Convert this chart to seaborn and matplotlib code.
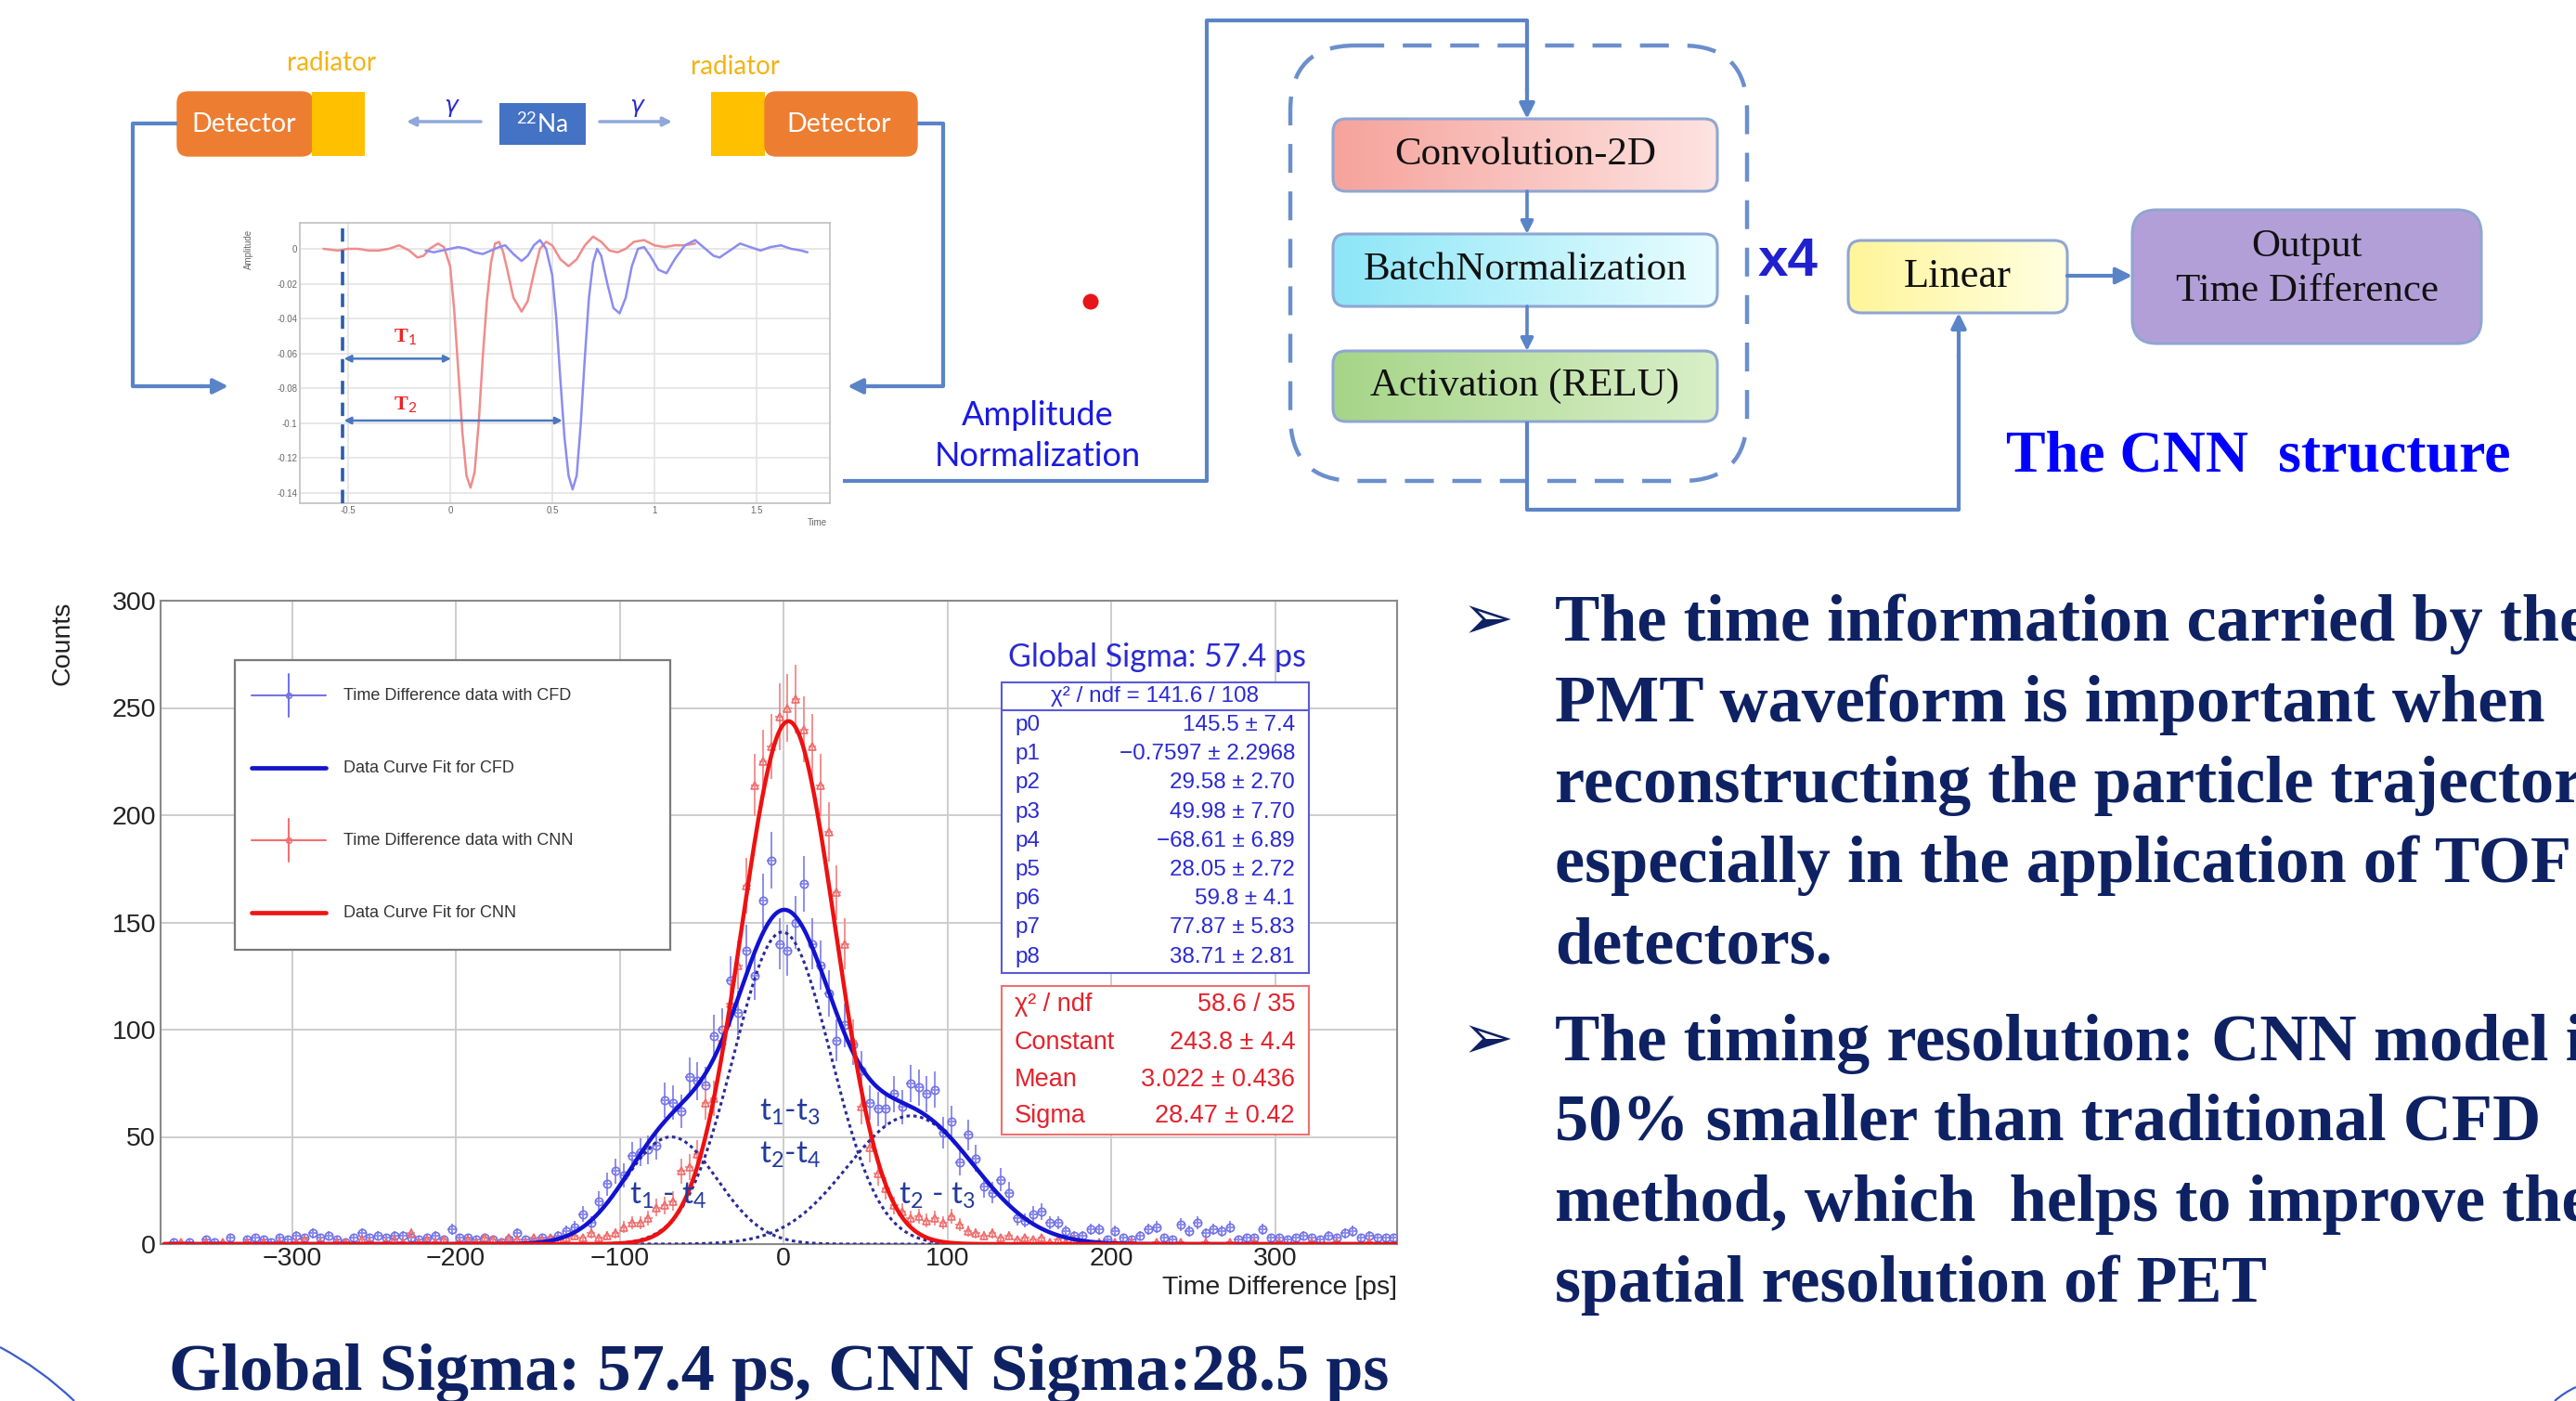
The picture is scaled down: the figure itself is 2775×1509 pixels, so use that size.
import numpy as np
import pandas as pd
import matplotlib
matplotlib.use("Agg")
import matplotlib.pyplot as plt
import seaborn as sns
from matplotlib.patches import FancyBboxPatch, Rectangle, Circle, PathPatch
from matplotlib.path import Path
from matplotlib.colors import LinearSegmentedColormap
from matplotlib.ticker import MultipleLocator

# ---------------------------------------------------------------- data
bin_edges = np.arange(-375, 380, 5)          # 5 ps bins, 150 bins

cfd_counts = [
    1, 0, 1, 0, 2, 1, 0, 3, 0, 2,
    3, 2, 1, 3, 2, 4, 3, 5, 3, 4,
    2, 1, 3, 5, 3, 4, 3, 4, 4, 3,
    2, 3, 4, 2, 7, 3, 3, 2, 3, 2,
    1, 2, 5, 2, 1, 3, 2, 4, 6, 8,
    14, 10, 20, 28, 34, 32, 41, 43, 44, 46,
    67, 66, 62, 78, 76, 74, 97, 100, 123, 108,
    137, 125, 160, 179, 140, 137, 150, 168, 140, 130,
    117, 95, 102, 93, 81, 66, 63, 63, 70, 64,
    75, 73, 70, 72, 52, 57, 38, 51, 40, 27,
    24, 30, 24, 12, 11, 14, 15, 10, 10, 6,
    4, 4, 7, 7, 2, 6, 3, 2, 4, 7,
    8, 3, 2, 9, 6, 10, 5, 7, 6, 8,
    2, 3, 3, 7, 3, 3, 2, 3, 4, 3,
    2, 4, 3, 5, 6, 3, 4, 3, 3, 3]

cnn_counts = [
    0, 1, 0, 0, 1, 0, 1, 0, 0, 1,
    0, 1, 0, 1, 0, 1, 2, 0, 1, 0,
    1, 1, 0, 2, 1, 0, 1, 2, 1, 5,
    1, 2, 1, 2, 0, 1, 2, 1, 3, 2,
    1, 3, 2, 1, 3, 2, 3, 2, 3, 4,
    3, 5, 3, 4, 5, 8, 10, 10, 12, 17,
    18, 20, 34, 36, 42, 66, 68, 95, 112, 130,
    167, 214, 225, 232, 246, 250, 254, 240, 232, 214,
    192, 164, 140, 95, 64, 45, 33, 26, 18, 15,
    12, 13, 11, 12, 10, 13, 9, 6, 5, 4,
    5, 3, 4, 2, 3, 2, 3, 1, 2, 1,
    2, 1, 0, 1, 0, 1, 0, 1, 0, 0,
    1, 0, 0, 1, 0, 0, 1, 0, 0, 1,
    0, 0, 1, 0, 0, 1, 0, 0, 0, 1,
    0, 0, 1, 0, 0, 0, 1, 0, 0, 0]

# fit parameters shown in the stats boxes
cfd_fit_params = [145.5, -0.7597, 29.58, 49.98, -68.61, 28.05, 59.8, 77.87, 38.71]
cnn_fit_params = [243.8, 3.022, 28.47]

x_ticks = [-300, -200, -100, 0, 100, 200, 300]
y_ticks = [0, 50, 100, 150, 200, 250, 300]

cfd_stat_names = ["p0", "p1", "p2", "p3", "p4", "p5", "p6", "p7", "p8"]
cfd_stat_values = ["145.5 ± 7.4", "−0.7597 ± 2.2968", "29.58 ± 2.70", "49.98 ± 7.70",
                   "−68.61 ± 6.89", "28.05 ± 2.72", "59.8 ± 4.1", "77.87 ± 5.83", "38.71 ± 2.81"]
cnn_stat_names = ["χ² / ndf", "Constant", "Mean", "Sigma"]
cnn_stat_values = ["58.6 / 35", "243.8 ± 4.4", "3.022 ± 0.436", "28.47 ± 0.42"]

legend_labels = ["Time Difference data with CFD", "Data Curve Fit for CFD",
                 "Time Difference data with CNN", "Data Curve Fit for CNN"]

# waveform inset
wave_red_t = [-0.62, -0.55, -0.50, -0.45, -0.40, -0.35, -0.30, -0.25, -0.20, -0.16,
              -0.13, -0.10, -0.06, -0.03, 0.00, 0.02, 0.04, 0.06, 0.08, 0.10,
              0.12, 0.14, 0.16, 0.18, 0.20, 0.22, 0.24, 0.26, 0.28, 0.31,
              0.35, 0.38, 0.41, 0.44, 0.47, 0.50, 0.54, 0.58, 0.62, 0.66,
              0.70, 0.74, 0.78, 0.82, 0.86, 0.90, 0.95, 1.00, 1.05, 1.10,
              1.15, 1.20]
wave_red_amp = [0.000, -0.001, 0.000, 0.000, -0.001, -0.001, 0.000, 0.002, -0.001, -0.005,
                -0.004, 0.000, 0.003, 0.001, -0.010, -0.035, -0.070, -0.105, -0.130, -0.137,
                -0.128, -0.100, -0.062, -0.030, -0.008, 0.003, 0.004, -0.002, -0.012, -0.028,
                -0.036, -0.030, -0.014, 0.000, 0.004, 0.002, -0.006, -0.010, -0.006, 0.002,
                0.007, 0.004, -0.001, -0.002, 0.000, 0.004, 0.005, 0.002, 0.001, 0.002,
                0.002, 0.003]
wave_blue_t = [-0.12, -0.08, -0.04, 0.00, 0.04, 0.08, 0.12, 0.16, 0.20, 0.24,
               0.27, 0.31, 0.35, 0.38, 0.41, 0.44, 0.47, 0.50, 0.52, 0.54,
               0.56, 0.58, 0.60, 0.62, 0.64, 0.66, 0.68, 0.70, 0.72, 0.74,
               0.77, 0.80, 0.83, 0.86, 0.89, 0.92, 0.95, 0.98, 1.02, 1.06,
               1.10, 1.15, 1.20, 1.25, 1.29, 1.32, 1.37, 1.42, 1.47, 1.52,
               1.57, 1.62, 1.67, 1.72, 1.75]
wave_blue_amp = [-0.001, -0.002, -0.001, 0.000, 0.001, 0.000, -0.002, -0.003, -0.001, 0.001,
                 0.002, -0.003, -0.007, -0.004, 0.002, 0.005, 0.000, -0.015, -0.040, -0.075,
                 -0.108, -0.130, -0.138, -0.130, -0.100, -0.062, -0.028, -0.008, 0.000, -0.004,
                 -0.020, -0.034, -0.037, -0.028, -0.010, 0.000, 0.001, -0.004, -0.012, -0.014,
                 -0.006, 0.002, 0.005, 0.000, -0.004, -0.005, -0.001, 0.003, 0.001, -0.001,
                 0.001, 0.002, 0.000, -0.001, -0.002]
wave_x_ticks = [-0.5, 0, 0.5, 1, 1.5]
wave_y_ticks = [0, -0.02, -0.04, -0.06, -0.08, -0.1, -0.12, -0.14]

cnn_blocks = ["Convolution-2D", "BatchNormalization", "Activation (RELU)"]

bullet1 = ["The time information carried by the", "PMT waveform is important when",
           "reconstructing the particle trajectory,", "especially in the application of TOF",
           "detectors."]
bullet2 = ["The timing resolution: CNN model is", "50% smaller than traditional CFD",
           "method, which  helps to improve the", "spatial resolution of PET"]
caption = "Global Sigma: 57.4 ps, CNN Sigma:28.5 ps"

# ---------------------------------------------------------------- style
sns.set_theme(style="white")
plt.rcParams['font.family'] = ['Liberation Sans', 'DejaVu Sans']
plt.rcParams['mathtext.fontset'] = 'custom'
plt.rcParams['mathtext.rm'] = 'Lato'
plt.rcParams['mathtext.it'] = 'Lato:italic'
plt.rcParams['axes.unicode_minus'] = True

W, H = 2775, 1509
fig = plt.figure(figsize=(W / 100, H / 100), dpi=100)
fig.patch.set_facecolor('white')

NAVY = '#0e2163'
BLUE_TXT = '#2a2ad2'
RED_TXT = '#e3222c'
LINE_BLUE = '#5a84c8'


def gaus(t, a, m, s):
    return a * np.exp(-0.5 * ((t - m) / s) ** 2)


# ---------------------------------------------------------------- histogram
ax = fig.add_axes([173 / W, 1 - 1340 / H, 1332 / W, 693 / H])
centers = 0.5 * (bin_edges[:-1] + bin_edges[1:])
df = pd.DataFrame({"t": centers, "cfd": cfd_counts, "cnn": cnn_counts})

for col, mk, fc, ec in [("cfd", "o", "#7272e6", "#8d8dee"), ("cnn", "^", "#f06b6b", "#f39090")]:
    d = df[df[col] > 0]
    ax.errorbar(d["t"], d[col], yerr=np.sqrt(d[col]), xerr=2.5, fmt=mk, ms=6,
                mfc='none', mec=fc, mew=1.2, ecolor=ec, elinewidth=1.4, capsize=0, zorder=3)

tt = np.linspace(-378, 374, 1521)
p = cfd_fit_params
comps = [gaus(tt, p[0], p[1], p[2]), gaus(tt, p[3], p[4], p[5]), gaus(tt, p[6], p[7], p[8])]
for c in comps:
    ax.plot(tt, c, ls=(0, (1.2, 1.2)), color='#2b2b9a', lw=2.2, zorder=4)
fit_df = pd.DataFrame({"t": tt, "cfd": comps[0] + comps[1] + comps[2],
                       "cnn": gaus(tt, *cnn_fit_params)})
sns.lineplot(data=fit_df, x="t", y="cfd", color='#1212d0', lw=3.2, ax=ax, zorder=5, sort=False)
sns.lineplot(data=fit_df, x="t", y="cnn", color='#ee1111', lw=3.2, ax=ax, zorder=6, sort=False)

ax.set_xlim(-380.2, 374.5)
ax.set_ylim(0, 300)
ax.set_xticks(x_ticks)
ax.set_yticks(y_ticks)
ax.xaxis.set_minor_locator(MultipleLocator(20))
ax.yaxis.set_minor_locator(MultipleLocator(10))
ax.grid(True, which='major', color='#cdcdcd', lw=1.4)
ax.set_axisbelow(True)
ax.tick_params(axis='both', which='both', direction='in', labelsize=20.5, colors='#222222',
               top=False, right=False)
ax.tick_params(axis='y', which='major', length=27, width=1.3, color='#777777')
ax.tick_params(axis='y', which='minor', length=14, width=1.1, color='#777777')
ax.tick_params(axis='x', which='major', length=16, width=1.3, color='#777777', pad=2)
ax.tick_params(axis='x', which='minor', length=8, width=1.1, color='#777777')
for s in ax.spines.values():
    s.set_color('#8a8a8a')
    s.set_linewidth(1.5)
ax.set_xlabel("")
ax.set_ylabel("")
ax.set_facecolor('white')

# ---------------------------------------------------------------- waveform inset
axw = fig.add_axes([323 / W, 1 - 542 / H, 571 / W, 302 / H])
wdf_r = pd.DataFrame({"t": wave_red_t, "a": wave_red_amp})
wdf_b = pd.DataFrame({"t": wave_blue_t, "a": wave_blue_amp})
sns.lineplot(data=wdf_r, x="t", y="a", color='#f08c8c', lw=1.8, ax=axw, sort=False, zorder=3)
sns.lineplot(data=wdf_b, x="t", y="a", color='#8c8cf0', lw=1.8, ax=axw, sort=False, zorder=3)
axw.set_xlim(-0.736, 1.86)
axw.set_ylim(-0.1459, 0.0149)
axw.set_xticks(wave_x_ticks)
axw.set_xticklabels(["-0.5", "0", "0.5", "1", "1.5"])
axw.set_yticks(wave_y_ticks)
axw.set_yticklabels(["0", "-0.02", "-0.04", "-0.06", "-0.08", "-0.1", "-0.12", "-0.14"])
axw.xaxis.set_minor_locator(MultipleLocator(0.1))
axw.yaxis.set_minor_locator(MultipleLocator(0.005))
axw.grid(True, which='major', color='#e3e3e3', lw=1.2)
axw.tick_params(which='both', direction='in', labelsize=7, colors='#666666', pad=2)
axw.tick_params(which='major', length=6)
axw.tick_params(which='minor', length=3)
for s in axw.spines.values():
    s.set_color('#c0c0c0')
    s.set_linewidth(1.2)
axw.set_xlabel("")
axw.set_ylabel("")
axw.axvline(-0.527, ymin=0.0, ymax=0.98, color='#2a5cb0', lw=2.6, ls=(0, (4, 2.5)), zorder=4)
for yv, xe in [(-0.063, 0.005), (-0.0985, 0.55)]:
    axw.annotate('', xy=(xe, yv), xytext=(-0.52, yv),
                 arrowprops=dict(arrowstyle='<|-|>', color='#4a78bf', lw=1.8, mutation_scale=11,
                                 shrinkA=0, shrinkB=0))
axw.text(-0.22, -0.051, "T$_1$", color='#ee2222', fontsize=16, family='Liberation Serif',
         ha='center', va='center', fontweight='bold')
axw.text(-0.22, -0.0895, "T$_2$", color='#ee2222', fontsize=16, family='Liberation Serif',
         ha='center', va='center', fontweight='bold')

# ---------------------------------------------------------------- overlay (pixel coordinates)
ov = fig.add_axes([0, 0, 1, 1], zorder=10)
ov.patch.set_alpha(0)
ov.axis('off')


def grad_box(x0, y0, w, h, c1, c2, ec='#8fa6d2', rs=14, lw=2.2):
    cm = LinearSegmentedColormap.from_list('g', [c1, c2])
    im = ov.imshow(np.linspace(0, 1, 64)[None, :], cmap=cm, extent=(x0, x0 + w, y0 + h, y0),
                   aspect='auto', interpolation='bilinear', zorder=2)
    pt = FancyBboxPatch((x0, y0), w, h, boxstyle=f"round,pad=0,rounding_size={rs}",
                        fc='none', ec=ec, lw=lw, zorder=3)
    ov.add_patch(pt)
    im.set_clip_path(pt)


def arrow(p0, p1, color=LINE_BLUE, lw=3, ms=24):
    ov.annotate('', xy=p1, xytext=p0,
                arrowprops=dict(arrowstyle='-|>', color=color, lw=lw, mutation_scale=ms,
                                shrinkA=0, shrinkB=0), zorder=4)


def poly(xs, ys, color=LINE_BLUE, lw=3):
    ov.plot(xs, ys, color=color, lw=lw, solid_capstyle='butt', zorder=4)


# ---- detector schematic
ov.add_patch(FancyBboxPatch((191, 99), 146, 69, boxstyle="round,pad=0,rounding_size=12",
                            fc='#ed7d31', ec='#ed7d31', zorder=3))
ov.add_patch(Rectangle((336, 99), 57, 69, fc='#ffc000', ec='none', zorder=3))
ov.add_patch(Rectangle((766, 99), 58, 69, fc='#ffc000', ec='none', zorder=3))
ov.add_patch(FancyBboxPatch((824, 99), 164, 69, boxstyle="round,pad=0,rounding_size=12",
                            fc='#ed7d31', ec='#ed7d31', zorder=3))
ov.add_patch(Rectangle((538, 111), 93, 45, fc='#4472c4', ec='none', zorder=3))
ov.text(263, 134, "Detector", color='white', fontsize=20.5, family='Lato', ha='center', va='center', zorder=5)
ov.text(904, 134, "Detector", color='white', fontsize=20.5, family='Lato', ha='center', va='center', zorder=5)
ov.text(584, 134, "$^{22}$Na", color='white', fontsize=19, family='Lato', ha='center', va='center', zorder=5)
ov.text(357, 68, "radiator", color='#f3b414', fontsize=20, family='Lato', ha='center', va='center')
ov.text(792, 72, "radiator", color='#f3b414', fontsize=20, family='Lato', ha='center', va='center')
arrow((518, 131), (438, 131), color='#8fa8d8', lw=2.5, ms=14)
arrow((646, 131), (724, 131), color='#8fa8d8', lw=2.5, ms=14)
ov.text(486, 114, "γ", color='#2a2ad2', fontsize=18, family='DejaVu Sans', style='italic',
        ha='center', va='center')
ov.text(686, 114, "γ", color='#2a2ad2', fontsize=18, family='DejaVu Sans', style='italic',
        ha='center', va='center')
poly([191, 143, 143, 220], [133, 133, 416, 416])
arrow((215, 416), (246, 416))
poly([988, 1016, 1016, 940], [133, 133, 416, 416])
arrow((945, 416), (913, 416))
ov.add_patch(Circle((1175, 325), 8.5, fc='#e8141a', ec='none', zorder=5))
ov.text(1118, 447, "Amplitude", color='#1a1ae0', fontsize=26, family='Lato', ha='center', va='center')
ov.text(1118, 491, "Normalization", color='#1a1ae0', fontsize=26, family='Lato', ha='center', va='center')
ov.text(268, 268, "Amplitude", color='#666666', fontsize=7, rotation=90, ha='center', va='center')
ov.text(880, 563, "Time", color='#666666', fontsize=7, ha='center', va='center')

# ---- CNN structure
poly([908, 1300, 1300, 1645, 1645], [518, 518, 22, 22, 100])
arrow((1645, 95), (1645, 128))
ov.add_patch(FancyBboxPatch((1390, 49), 492, 469, boxstyle="round,pad=0,rounding_size=70",
                            fc='none', ec='#6b8fcc', lw=3.2, ls=(0, (7, 4.5)), zorder=3))
grad_box(1436, 128, 414, 78, '#f6a39c', '#fde3e1')
grad_box(1436, 252, 414, 78, '#8de6f7', '#e8fdff')
grad_box(1436, 378, 414, 76, '#a6d588', '#d9efc8')
grad_box(1991, 259, 236, 78, '#fff59a', '#ffffe2')
ov.add_patch(FancyBboxPatch((2297, 226), 376, 144, boxstyle="round,pad=0,rounding_size=26",
                            fc='#b39fd8', ec='#8fa6d2', lw=2.2, zorder=3))
for yc, txt in zip([167, 291, 416], cnn_blocks):
    ov.text(1643, yc, txt, fontsize=31, family='Liberation Serif', color='#111111',
            ha='center', va='center', zorder=6)
ov.text(2109, 298, "Linear", fontsize=32, family='Liberation Serif', color='#111111',
        ha='center', va='center', zorder=6)
ov.text(2485, 266, "Output", fontsize=31, family='Liberation Serif', color='#111111',
        ha='center', va='center', zorder=6)
ov.text(2485, 314, "Time Difference", fontsize=31, family='Liberation Serif', color='#111111',
        ha='center', va='center', zorder=6)
arrow((1645, 206), (1645, 252), lw=2.6, ms=20)
arrow((1645, 330), (1645, 378), lw=2.6, ms=20)
poly([1645, 1645, 2110, 2110], [454, 549, 549, 380])
arrow((2110, 385), (2110, 337))
arrow((2227, 297), (2297, 297), ms=26)
ov.text(1926, 282, "x4", color='#2020d0', fontsize=42, fontweight='bold', ha='center', va='center')
ov.text(2161, 507, "The CNN  structure", color='#0000ff', fontsize=46, fontweight='bold',
        family='Liberation Serif', ha='left', va='baseline')

# ---- histogram legend
ov.add_patch(Rectangle((253, 711), 469, 312, fc='white', ec='#7a7a7a', lw=1.6, zorder=5))
leg_y = [749, 827, 905, 983]
leg_col = ['#7474e6', '#1414cc', '#f07070', '#ee1616']
for i, (yy, lab, col) in enumerate(zip(leg_y, legend_labels, leg_col)):
    if i in (0, 2):
        ov.plot([271, 351], [yy, yy], color=col, lw=1.5, zorder=6)
        ov.plot([311, 311], [yy - 23, yy + 23], color=col, lw=1.5, zorder=6)
        ov.plot([311], [yy], marker='o', ms=4, mfc='none', mec=col, mew=1.2, zorder=7)
    else:
        ov.plot([271, 351], [yy, yy], color=col, lw=3.4, zorder=6)
    ov.text(370, yy, lab, fontsize=13, color='#333333', ha='left', va='center', zorder=7)

# ---- stats boxes
ov.text(1247, 708, "Global Sigma: 57.4 ps", color=BLUE_TXT, fontsize=24.5, family='Lato',
        ha='center', va='center', zorder=7)
ov.add_patch(Rectangle((1079, 735), 331, 313, fc='white', ec='#5a5ad8', lw=1.5, zorder=5))
ov.plot([1079, 1410], [765, 765], color='#5a5ad8', lw=1.5, zorder=6)
ov.text(1244, 750, "χ² / ndf = 141.6 / 108", color=BLUE_TXT, fontsize=17.5,
        ha='center', va='center', zorder=7)
for k, (nm, vl) in enumerate(zip(cfd_stat_names, cfd_stat_values)):
    yy = 781 + k * 31.2
    ov.text(1093, yy, nm, color=BLUE_TXT, fontsize=17.5, ha='left', va='center', zorder=7)
    ov.text(1395, yy, vl, color=BLUE_TXT, fontsize=17.5, ha='right', va='center', zorder=7)
ov.add_patch(Rectangle((1079, 1062), 331, 160, fc='white', ec='#ee7070', lw=1.5, zorder=5))
for yy, nm, vl in zip([1082, 1123, 1163, 1202], cnn_stat_names, cnn_stat_values):
    ov.text(1093, yy, nm, color=RED_TXT, fontsize=19.5, ha='left', va='center', zorder=7)
    ov.text(1395, yy, vl, color=RED_TXT, fontsize=19.5, ha='right', va='center', zorder=7)

# ---- peak annotations
for (xx, yy, s) in [(851, 1198, "t$_1$-t$_3$"), (851, 1244, "t$_2$-t$_4$"),
                    (720, 1288, "t$_1$ - t$_4$"), (1009, 1288, "t$_2$ - t$_3$")]:
    ov.text(xx, yy, s, color='#23399c', fontsize=24, family='Lato', ha='center', va='center', zorder=7)

# ---- axis titles
ov.text(1505, 1387, "Time Difference [ps]", fontsize=20.5, color='#222222', ha='right', va='center', zorder=7)
ov.text(67, 648, "Counts", fontsize=20.5, color='#222222', rotation=90, ha='center', va='top', zorder=7)

# ---- caption and bullets
ov.text(839, 1497, caption, color=NAVY, fontsize=52, fontweight='bold',
        family='Liberation Serif', ha='center', va='baseline')
base1 = [690, 777, 864, 950, 1037]
base2 = [1142, 1228, 1315, 1402]
for lines, bases in [(bullet1, base1), (bullet2, base2)]:
    ov.text(1603, bases[0] - 2, "➢", color=NAVY, fontsize=48, family='DejaVu Sans',
            ha='center', va='baseline')
    for ln, b in zip(lines, bases):
        ov.text(1675, b, ln, color=NAVY, fontsize=52, fontweight='bold',
                family='Liberation Serif', ha='left', va='baseline')

# ---- decorative slide arcs
pp = Path([(0, 1451), (45, 1475), (80, 1509)], [Path.MOVETO, Path.CURVE3, Path.CURVE3])
ov.add_patch(PathPatch(pp, fc='none', ec='#3a5ccc', lw=1.6, zorder=4))
pp2 = Path([(2752, 1509), (2762, 1500), (2775, 1494)], [Path.MOVETO, Path.CURVE3, Path.CURVE3])
ov.add_patch(PathPatch(pp2, fc='none', ec='#3a5ccc', lw=1.6, zorder=4))

ov.set_xlim(0, W)
ov.set_ylim(H, 0)

fig.savefig("out.png", dpi=100)
